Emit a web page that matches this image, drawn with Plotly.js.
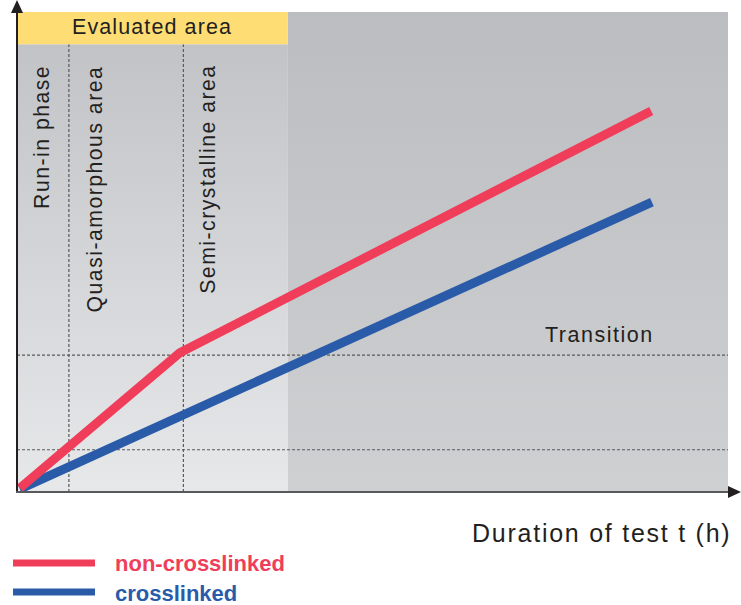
<!DOCTYPE html>
<html>
<head>
<meta charset="utf-8">
<script src="https://cdn.plot.ly/plotly-3.0.1.min.js"></script>
<style>html,body{margin:0;padding:0;background:#fff;}#chart{width:741px;height:605px;}</style>
</head>
<body>
<div id="chart"></div>
<script>
// ---- data (arbitrary units, x: duration of test, y: response) ----
var seriesNames = ["non-crosslinked", "crosslinked"];
var nonCrosslinkedX = [0.4, 22.9, 89.2];
var nonCrosslinkedY = [0.8, 29.0, 79.4];
var crosslinkedX = [0.4, 89.3];
var crosslinkedY = [0.6, 60.4];
var phaseBoundaries = [7.3, 23.4];      // x positions of the dashed vertical lines
var evaluatedEnd = 38.1;                // end of evaluated area
var levelLines = [8.8, 28.5];           // y positions of the dashed horizontal lines
var bandBottom = 93.3;                  // bottom of the "Evaluated area" band
var phaseLabels = ["Run-in phase", "Quasi-amorphous area", "Semi-crystalline area"];
var phaseLabelX = [3.5, 11.1, 26.9];

var RED = "#ef3d5a", BLUE = "#2a5ba9", TXT = "#231f20";
var FONT = "Liberation Sans, Arial, sans-serif";
function spaced(t, ls) { return '<span style="letter-spacing:' + ls + 'px">' + t + '</span>'; }

var traces = [];
// background gradients
traces.push({
  x: [0, evaluatedEnd, evaluatedEnd, 0, 0], y: [0, 0, bandBottom, bandBottom, 0],
  mode: "lines", line: {width: 0}, fill: "toself", hoverinfo: "skip", showlegend: false,
  fillgradient: {type: "vertical", start: 0, stop: bandBottom,
    colorscale: [[0, "#e7e8ea"], [1, "#c2c3c6"]]}
});
traces.push({
  x: [evaluatedEnd, 100, 100, evaluatedEnd, evaluatedEnd], y: [0, 0, 100, 100, 0],
  mode: "lines", line: {width: 0}, fill: "toself", hoverinfo: "skip", showlegend: false,
  fillgradient: {type: "vertical", start: 0, stop: 100,
    colorscale: [[0, "#cfd0d2"], [1, "#bcbdc0"]]}
});
// dashed reference lines
phaseBoundaries.forEach(function (b) {
  traces.push({x: [b, b], y: [0, bandBottom], mode: "lines", hoverinfo: "skip", showlegend: false,
    line: {color: "#58595b", width: 1.2, dash: "3px,2px"}});
});
levelLines.forEach(function (l) {
  traces.push({x: [0, 100], y: [l, l], mode: "lines", hoverinfo: "skip", showlegend: false,
    line: {color: "#58595b", width: 1.2, dash: "3px,2px"}});
});
// data lines
traces.push({x: crosslinkedX, y: crosslinkedY, name: seriesNames[1], mode: "lines",
  line: {color: BLUE, width: 9}, showlegend: false});
traces.push({x: nonCrosslinkedX, y: nonCrosslinkedY, name: seriesNames[0], mode: "lines",
  line: {color: RED, width: 9}, showlegend: false});

// pixel helpers for paper coords (plot area: x 17..728, y 12..492)
function px(p) { return (p - 17) / 711; }
function py(p) { return (492 - p) / 480; }

var shapes = [
  {type: "rect", xref: "x", yref: "y", x0: 0, x1: evaluatedEnd, y0: bandBottom, y1: 100,
   fillcolor: "#fedd74", line: {width: 0}, layer: "above"},
  // y axis
  {type: "line", xref: "paper", yref: "paper", x0: 0, x1: 0, y0: py(493), y1: py(11),
   line: {color: TXT, width: 2}, layer: "above"},
  {type: "path", xref: "paper", yref: "paper",
   path: "M " + px(11) + "," + py(13) + " L " + px(23) + "," + py(13) + " L " + px(17) + "," + py(0) + " Z",
   fillcolor: TXT, line: {width: 0}, layer: "above"},
  // x axis
  {type: "line", xref: "paper", yref: "paper", x0: px(16), x1: px(730), y0: 0, y1: 0,
   line: {color: "#58595b", width: 2}, layer: "above"},
  {type: "path", xref: "paper", yref: "paper",
   path: "M " + px(728) + "," + py(486) + " L " + px(728) + "," + py(498) + " L " + px(741) + "," + py(492) + " Z",
   fillcolor: TXT, line: {width: 0}, layer: "above"},
  // legend lines
  {type: "line", xref: "paper", yref: "paper", x0: px(13), x1: px(95), y0: py(563), y1: py(563),
   line: {color: RED, width: 7}},
  {type: "line", xref: "paper", yref: "paper", x0: px(13), x1: px(95), y0: py(592), y1: py(592),
   line: {color: BLUE, width: 7}}
];

var annotations = [
  {text: spaced("Evaluated area", 1.1), xref: "x", yref: "paper", x: evaluatedEnd / 2, y: py(27),
   showarrow: false, font: {family: FONT, size: 21.5, color: TXT}, xanchor: "center", yanchor: "middle"},
  {text: spaced("Transition", 1.5), xref: "paper", yref: "paper", x: px(599), y: py(335),
   showarrow: false, font: {family: FONT, size: 21.5, color: TXT}, xanchor: "center", yanchor: "middle"},
  {text: spaced("Duration of test t (h)", 1.75), xref: "paper", yref: "paper", x: px(733), y: py(533),
   showarrow: false, font: {family: FONT, size: 25, color: TXT}, xanchor: "right", yanchor: "middle"},
  {text: "<b>" + seriesNames[0] + "</b>", xref: "paper", yref: "paper", x: px(113), y: py(563),
   showarrow: false, font: {family: FONT, size: 22, color: RED}, xanchor: "left", yanchor: "middle"},
  {text: "<b>" + seriesNames[1] + "</b>", xref: "paper", yref: "paper", x: px(113), y: py(593),
   showarrow: false, font: {family: FONT, size: 22, color: BLUE}, xanchor: "left", yanchor: "middle"}
];
phaseLabels.forEach(function (t, i) {
  annotations.push({text: spaced(t, 1.5), xref: "x", yref: "paper", x: phaseLabelX[i], y: py(63),
    showarrow: false, textangle: -90, font: {family: FONT, size: 21.2, color: TXT},
    xanchor: "center", yanchor: "top"});
});

var layout = {
  width: 741, height: 605,
  margin: {l: 17, r: 13, t: 12, b: 113, pad: 0},
  paper_bgcolor: "#ffffff", plot_bgcolor: "#ffffff",
  showlegend: false,
  xaxis: {range: [0, 100], visible: false, fixedrange: true},
  yaxis: {range: [0, 100], visible: false, fixedrange: true},
  shapes: shapes, annotations: annotations
};
Plotly.newPlot("chart", traces, layout, {staticPlot: true, displayModeBar: false});
</script>
</body>
</html>
